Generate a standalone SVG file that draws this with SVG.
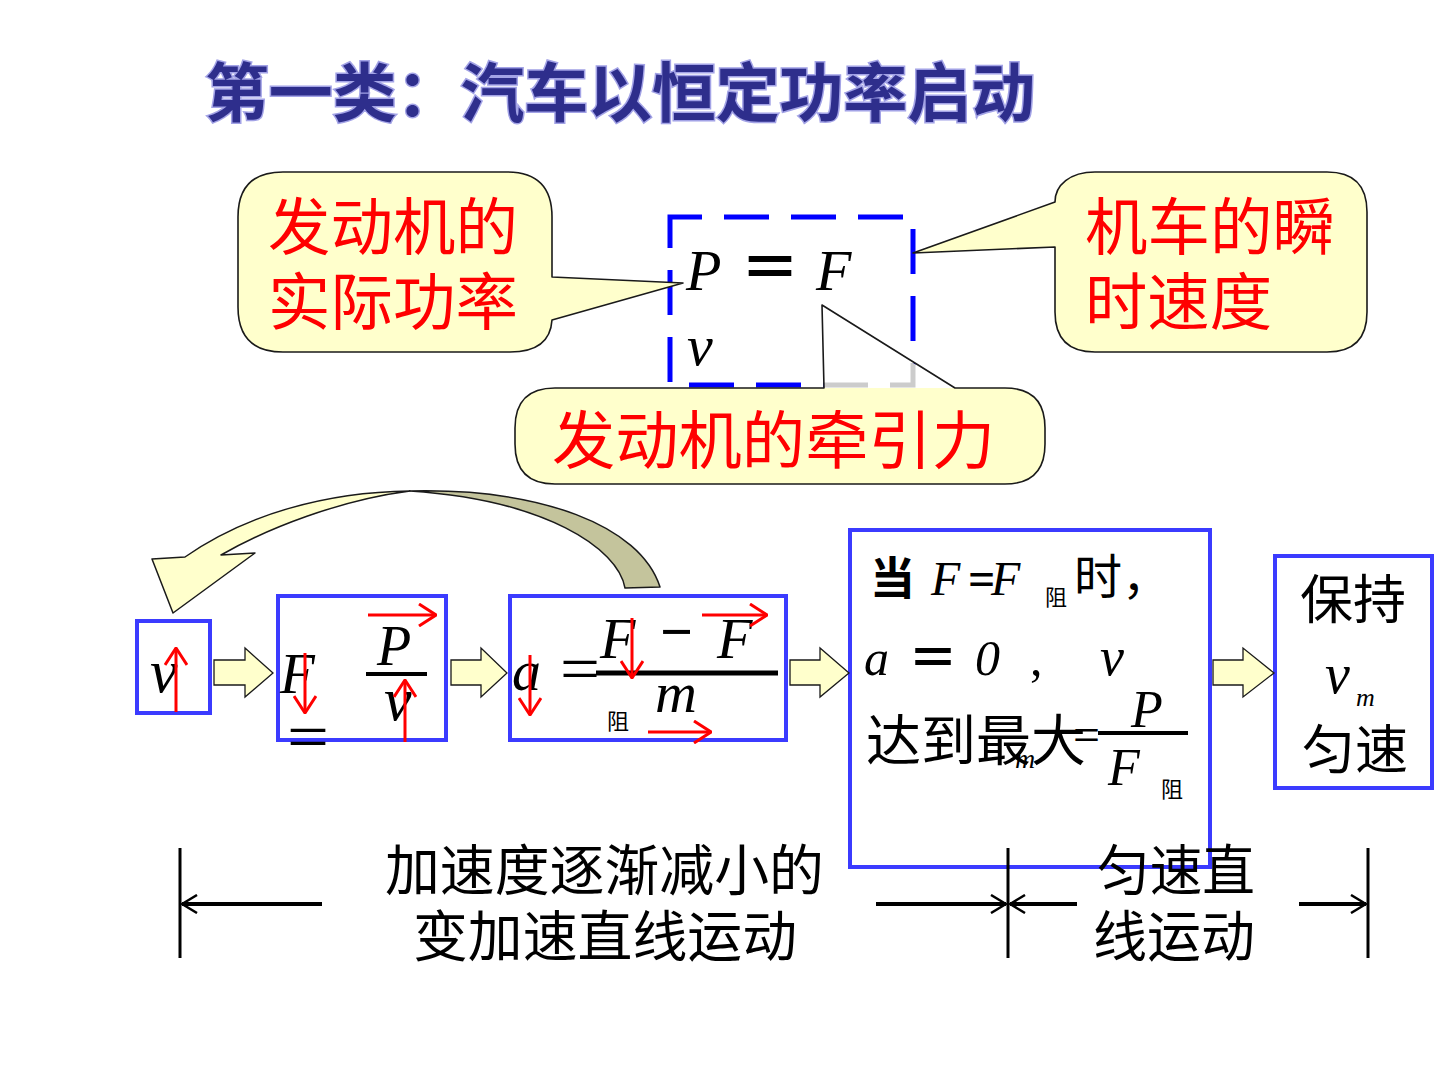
<svg xmlns="http://www.w3.org/2000/svg" width="1440" height="1080" viewBox="0 0 1440 1080">
<style>
.cjk{font-family:"Noto Sans CJK SC","Noto Sans",sans-serif}
.red{fill:#ff0000}
.m{font-family:"Liberation Serif","Times New Roman",serif;font-style:italic;fill:#000}
.eq{font-family:"Liberation Serif","Times New Roman",serif;fill:#000}
.box{fill:none;stroke:#3b3bff;stroke-width:4}
.callout{fill:#ffffcc;stroke:none}
.outline{fill:none;stroke:#1a1a1a;stroke-width:1.6;stroke-linejoin:round}
.blockarrow{fill:#ffffcc;stroke:#1a1a1a;stroke-width:1.3;stroke-linejoin:miter}
.rarrow{stroke:#ff0000;stroke-width:3;fill:none;marker-end:url(#redhead)}
.dim{stroke:#000;stroke-width:4;fill:none}
.tick{stroke:#000;stroke-width:3}
</style>
<defs>
<marker id="redhead" viewBox="0 0 20 24" refX="19" refY="12" markerWidth="20" markerHeight="24" markerUnits="userSpaceOnUse" orient="auto">
<path d="M2,1 L19,12 L2,23" fill="none" stroke="#ff0000" stroke-width="3"/>
</marker>
<marker id="blkhead" viewBox="0 0 18 20" refX="17" refY="10" markerWidth="18" markerHeight="20" markerUnits="userSpaceOnUse" orient="auto-start-reverse">
<path d="M2,1 L17,10 L2,19" fill="none" stroke="#000" stroke-width="2.5"/>
</marker>
<clipPath id="ptrclip"><polygon points="822,305 824,390 955,390"/></clipPath>
</defs>

<rect width="1440" height="1080" fill="#ffffff"/>

<g id="title">
<text x="205" y="116" class="cjk" font-size="64" font-weight="bold" fill="#2e2e8c" stroke="#a3a3e6" stroke-width="3" paint-order="stroke" textLength="830" lengthAdjust="spacingAndGlyphs">第一类：汽车以恒定功率启动</text>
</g>

<g id="formula-box">
<rect x="670" y="217" width="243" height="168" fill="none" stroke="#0000ff" stroke-width="5" stroke-dasharray="45 22" stroke-dashoffset="13"/>
<text x="686" y="290" class="m" font-size="58">P</text>
<text x="740" y="290" class="cjk" font-size="60" font-weight="bold" fill="#000">＝</text>
<text x="816" y="290" class="m" font-size="58">F</text>
<text x="687" y="365" class="m" font-size="58">v</text>
</g>

<g id="callout-power">
<path class="callout" d="M283,172 H507 Q552,172 552,217 V277 L683,283 L552,320 Q550,352 510,352 H283 Q238,352 238,307 V217 Q238,172 283,172 Z"/>
<path class="outline" d="M283,172 H507 Q552,172 552,217 V277 L683,283 L552,320 Q550,352 510,352 H283 Q238,352 238,307 V217 Q238,172 283,172 Z"/>
<text x="268" y="250" class="cjk red" font-size="62" textLength="250" lengthAdjust="spacingAndGlyphs">发动机的</text>
<text x="268" y="325" class="cjk red" font-size="62" textLength="250" lengthAdjust="spacingAndGlyphs">实际功率</text>
</g>

<g id="callout-speed">
<path class="callout" d="M1055,202 C1055,185 1070,172 1095,172 H1327 Q1367,172 1367,212 V312 Q1367,352 1327,352 H1095 Q1055,352 1055,312 V247 L913,253 Z"/>
<path class="outline" d="M1055,202 C1055,185 1070,172 1095,172 H1327 Q1367,172 1367,212 V312 Q1367,352 1327,352 H1095 Q1055,352 1055,312 V247 L913,253 Z"/>
<text x="1085" y="250" class="cjk red" font-size="62" textLength="250" lengthAdjust="spacingAndGlyphs">机车的瞬</text>
<text x="1085" y="325" class="cjk red" font-size="62" textLength="187" lengthAdjust="spacingAndGlyphs">时速度</text>
</g>

<g id="callout-force">
<polygon points="822,305 824,390 955,390" fill="#ffffff"/>
<g clip-path="url(#ptrclip)">
<rect x="670" y="217" width="243" height="168" fill="none" stroke="#cccccc" stroke-width="5" stroke-dasharray="45 22" stroke-dashoffset="13"/>
</g>
<path class="callout" d="M555,388 H1005 Q1045,388 1045,428 V444 Q1045,484 1005,484 H555 Q515,484 515,444 V428 Q515,388 555,388 Z"/>
<path class="outline" d="M824,388 L822,305 L955,388 H1005 Q1045,388 1045,428 V444 Q1045,484 1005,484 H555 Q515,484 515,444 V428 Q515,388 555,388 Z"/>
<text x="552" y="463" class="cjk red" font-size="63" textLength="443" lengthAdjust="spacingAndGlyphs">发动机的牵引力</text>
</g>

<g id="curved-arrow">
<path d="M185,557 C245,515 325,492 410,491 C340,500 268,528 221,555 L255,553 L173,613 L152,559 Z" fill="#ffffcc" stroke="#1a1a1a" stroke-width="1.5" stroke-linejoin="round"/>
<path d="M410,491 C540,488 640,525 660,587 L625,588 C618,548 545,500 410,491 Z" fill="#c4c49c" stroke="#1a1a1a" stroke-width="1.5" stroke-linejoin="round"/>
</g>

<g id="node-v">
<rect class="box" x="137" y="621" width="73" height="92"/>
<text x="150" y="692" class="m" font-size="62">v</text>
</g>

<g id="node-F">
<rect class="box" x="278" y="596" width="168" height="144"/>
<text x="280" y="693" class="m" font-size="57">F</text>
<text x="377" y="665" class="m" font-size="56">P</text>
<line x1="366" y1="674" x2="427" y2="674" stroke="#000" stroke-width="4"/>
<text x="384" y="720" class="m" font-size="62">v</text>
<text x="287" y="759" class="eq" font-size="66" textLength="42" lengthAdjust="spacingAndGlyphs">=</text>
</g>

<g id="node-a">
<rect class="box" x="510" y="596" width="276" height="144"/>
<text x="512" y="690" class="m" font-size="58">a</text>
<text x="560" y="691" class="eq" font-size="66" textLength="40" lengthAdjust="spacingAndGlyphs">=</text>
<line x1="596" y1="673" x2="778" y2="673" stroke="#000" stroke-width="5"/>
<text x="600" y="658" class="m" font-size="58">F</text>
<text x="660" y="651" class="eq" font-weight="bold" font-size="58">−</text>
<text x="717" y="658" class="m" font-size="58">F</text>
<text x="655" y="712" class="m" font-size="58">m</text>
<text x="607" y="729" class="cjk" font-size="22" fill="#000">阻</text>
</g>

<g id="node-balance">
<rect class="box" x="850" y="530" width="360" height="337"/>
<text x="870" y="595" class="cjk" font-size="45" font-weight="bold" fill="#000">当</text>
<text x="931" y="595" class="m" font-size="48">F</text>
<text x="968" y="595" class="eq" font-size="48" font-weight="bold">=</text>
<text x="991" y="595" class="m" font-size="48">F</text>
<text x="1045" y="605" class="cjk" font-size="22" fill="#000">阻</text>
<text x="1074" y="594" class="cjk" font-size="48" fill="#000">时，</text>
<text x="864" y="675" class="m" font-size="50">a</text>
<text x="908" y="676" class="cjk" font-size="50" font-weight="bold" fill="#000">＝</text>
<text x="975" y="675" class="m" font-size="50">0</text>
<text x="1030" y="675" class="eq" font-size="50">,</text>
<text x="1100" y="675" class="m" font-size="54">v</text>
<text x="866" y="760" class="cjk" font-size="55" fill="#000" textLength="220" lengthAdjust="spacingAndGlyphs">达到最大</text>
<text x="1015" y="768" class="m" font-size="28">m</text>
<text x="1073" y="751" class="eq" font-size="48" textLength="27" lengthAdjust="spacingAndGlyphs">=</text>
<line x1="1098" y1="733" x2="1188" y2="733" stroke="#000" stroke-width="4"/>
<text x="1131" y="727" class="m" font-size="52">P</text>
<text x="1108" y="785" class="m" font-size="52">F</text>
<text x="1161" y="797" class="cjk" font-size="22" fill="#000">阻</text>
</g>

<g id="node-keep">
<rect class="box" x="1275" y="556" width="157" height="232"/>
<text x="1300" y="619" class="cjk" font-size="53" fill="#000">保持</text>
<text x="1325" y="693" class="m" font-size="56">v</text>
<text x="1356" y="706" class="m" font-size="26">m</text>
<text x="1302" y="769" class="cjk" font-size="53" fill="#000">匀速</text>
</g>

<g id="connectors">
<polygon class="blockarrow" points="214,660 245,660 245,648 273,673 245,697 245,685 214,685"/>
<polygon class="blockarrow" points="451,660 481,660 481,648 507,673 481,697 481,685 451,685"/>
<polygon class="blockarrow" points="790,660 820,660 820,648 849,673 820,697 820,685 790,685"/>
<polygon class="blockarrow" points="1213,660 1243,660 1243,648 1274,673 1243,697 1243,685 1213,685"/>
</g>

<g id="force-arrows">
<line class="rarrow" x1="176" y1="712" x2="176" y2="648"/>
<line class="rarrow" x1="305" y1="653" x2="305" y2="713"/>
<line class="rarrow" x1="368" y1="615" x2="436" y2="615"/>
<line class="rarrow" x1="405" y1="742" x2="405" y2="680"/>
<line class="rarrow" x1="530" y1="655" x2="530" y2="715"/>
<line class="rarrow" x1="632" y1="618" x2="632" y2="678"/>
<line class="rarrow" x1="702" y1="615" x2="767" y2="615"/>
<line class="rarrow" x1="648" y1="732" x2="711" y2="732"/>
</g>

<g id="phases">
<line class="tick" x1="180" y1="848" x2="180" y2="958"/>
<line class="tick" x1="1008" y1="848" x2="1008" y2="958"/>
<line class="tick" x1="1368" y1="848" x2="1368" y2="958"/>
<line class="dim" x1="182" y1="904" x2="322" y2="904" marker-start="url(#blkhead)"/>
<line class="dim" x1="876" y1="904" x2="1006" y2="904" marker-end="url(#blkhead)"/>
<line class="dim" x1="1010" y1="904" x2="1077" y2="904" marker-start="url(#blkhead)"/>
<line class="dim" x1="1299" y1="904" x2="1366" y2="904" marker-end="url(#blkhead)"/>
<text x="385" y="890" class="cjk" font-size="55" fill="#000" textLength="439" lengthAdjust="spacingAndGlyphs">加速度逐渐减小的</text>
<text x="413" y="956" class="cjk" font-size="55" fill="#000" textLength="384" lengthAdjust="spacingAndGlyphs">变加速直线运动</text>
<text x="1097" y="890" class="cjk" font-size="55" fill="#000" textLength="158" lengthAdjust="spacingAndGlyphs">匀速直</text>
<text x="1093" y="956" class="cjk" font-size="55" fill="#000" textLength="162" lengthAdjust="spacingAndGlyphs">线运动</text>
</g>
</svg>
